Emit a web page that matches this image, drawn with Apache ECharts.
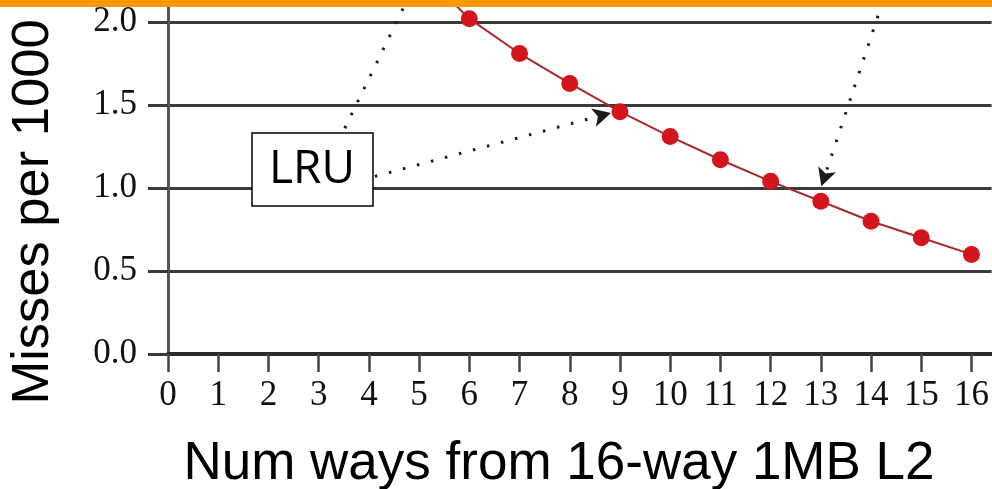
<!DOCTYPE html>
<html>
<head>
<meta charset="utf-8">
<script src="https://cdn.jsdelivr.net/npm/echarts@6/dist/echarts.min.js"></script>
<style>
  html, body { margin: 0; padding: 0; background: #fff; }
  #chart { width: 992px; height: 489px; }
</style>
</head>
<body>
<div id="chart"></div>
<script>
// Ways kept and misses per 1000 instructions (LRU curve)
const ways = [5, 6, 7, 8, 9, 10, 11, 12, 13, 14, 15, 16];
const misses = [2.32, 2.02, 1.81, 1.63, 1.46, 1.31, 1.17, 1.04, 0.92, 0.80, 0.70, 0.60];

// Tick labels
const xTicks = [0, 1, 2, 3, 4, 5, 6, 7, 8, 9, 10, 11, 12, 13, 14, 15, 16];

// Dotted annotation arrows [from, to] in data coords
const arrowToNine = [[4.12, 1.07], [8.82, 1.452]];
const lineUp = [[3.52, 1.36], [4.76, 2.13]];
const arrowToThirteen = [[14.23, 2.12], [13.01, 1.01]];

document.addEventListener("DOMContentLoaded", function () {
  const dom = document.getElementById("chart");
  const myChart = echarts.init(dom);

  const dotted = {
    color: "#1a1a1a",
    width: 3,
    type: [2.5, 12],
  };

  const option = {
    animation: false,
    grid: { left: 168, right: 0, top: 0, bottom: 135 },
    xAxis: {
      type: "value",
      min: 0,
      max: 16.4,
      interval: 1,
      axisLine: { lineStyle: { color: "#2a2a2a", width: 4 } },
      axisTick: {
        customValues: xTicks,
        length: 18,
        lineStyle: { color: "#444", width: 2.5 },
      },
      axisLabel: {
        customValues: xTicks,
        margin: 24,
        fontFamily: "Liberation Serif",
        fontSize: 35,
        color: "#111",
      },
      splitLine: { show: false },
    },
    yAxis: {
      type: "value",
      min: 0,
      max: 2.1325,
      interval: 0.5,
      axisLine: { show: true, lineStyle: { color: "#555", width: 3 } },
      axisTick: { show: true, length: 20, lineStyle: { color: "#3a3a3a", width: 3 } },
      axisLabel: {
        showMaxLabel: false,
        margin: 31,
        fontFamily: "Liberation Serif",
        fontSize: 35,
        color: "#111",
        formatter: (v) => v.toFixed(1),
      },
      splitLine: { show: true, lineStyle: { color: "#3a3a3a", width: 3 } },
    },
    series: [
      {
        type: "line",
        data: ways.map((w, i) => [w, misses[i]]),
        symbol: "circle",
        symbolSize: 17,
        clip: true,
        lineStyle: { color: "#a8282c", width: 2 },
        itemStyle: { color: "#d3151d" },
        z: 3,
        markLine: {
          silent: true,
          animation: false,
          label: { show: false },
          emphasis: { disabled: true },
          lineStyle: dotted,
          data: [
            [
              { coord: arrowToNine[0], symbol: "none" },
              { coord: arrowToNine[1], symbol: "arrow", symbolSize: [14, 18] },
            ],
            [
              { coord: lineUp[0], symbol: "none" },
              { coord: lineUp[1], symbol: "none" },
            ],
            [
              { coord: arrowToThirteen[0], symbol: "none" },
              { coord: arrowToThirteen[1], symbol: "arrow", symbolSize: [14, 18] },
            ],
          ],
          itemStyle: { color: "#000" },
        },
      },
    ],
    graphic: [
      {
        type: "rect",
        shape: { x: 0, y: 0, width: 992, height: 7 },
        style: { fill: "#ff9900" },
        z: 100,
      },
      {
        type: "rect",
        shape: { x: 252, y: 133, width: 121, height: 73 },
        style: { fill: "#fff", stroke: "#000", lineWidth: 1.5 },
        z: 100,
      },
      {
        type: "text",
        x: 312,
        y: 170,
        style: {
          text: "LRU",
          fontFamily: "Open Sans",
          fontSize: 46,
          fill: "#000",
          align: "center",
          verticalAlign: "middle",
        },
        z: 101,
      },
      {
        type: "text",
        x: 559,
        y: 464,
        style: {
          text: "Num ways from 16-way 1MB L2",
          fontFamily: "Liberation Sans",
          fontSize: 53,
          fill: "#000",
          align: "center",
          verticalAlign: "middle",
        },
      },
      {
        type: "text",
        x: 34,
        y: 212,
        rotation: Math.PI / 2,
        style: {
          text: "Misses per 1000",
          fontFamily: "Liberation Sans",
          fontSize: 52.5,
          fill: "#000",
          align: "center",
          verticalAlign: "middle",
        },
      },
    ],
  };

  myChart.setOption(option);
  window.addEventListener("resize", myChart.resize);
});
</script>
</body>
</html>
